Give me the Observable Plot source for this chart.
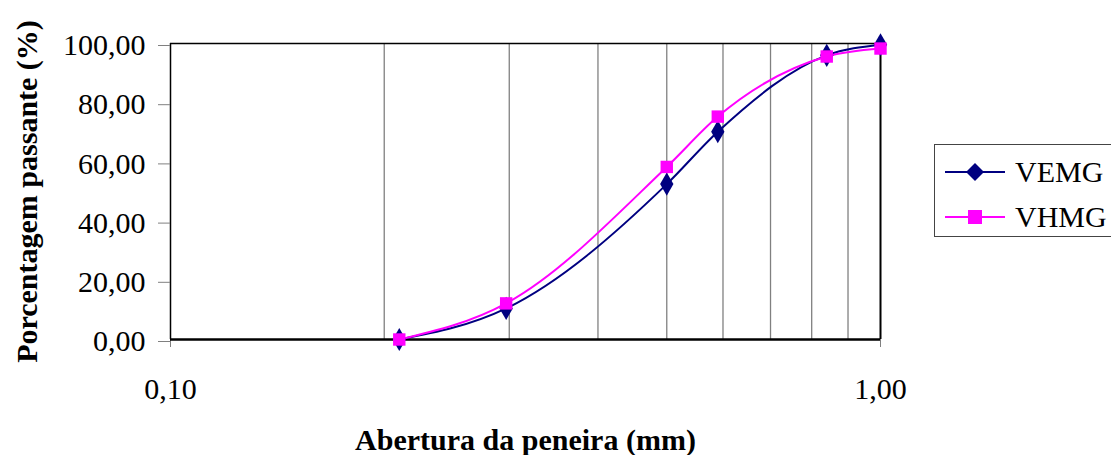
<!DOCTYPE html>
<html>
<head>
<meta charset="utf-8">
<script src="https://cdn.jsdelivr.net/npm/d3@7"></script>
<script src="https://cdn.jsdelivr.net/npm/@observablehq/plot@0.6"></script>
<style>
  html, body { margin: 0; padding: 0; background: #fff; }
  #wrap { position: relative; width: 1111px; height: 455px; overflow: hidden; font-family: "Liberation Serif", "Times New Roman", serif; }
  #chart svg { display: block; }
  #legend { position: absolute; left: 934px; top: 144px; width: 200px; height: 93px; border: 1px solid #444; box-sizing: border-box; background: #fff; }
  #legend .row { position: absolute; left: 10px; height: 40px; display: flex; align-items: center; }
  #legend .row span { font-size: 30px; margin-left: 10px; color: #000; }
</style>
</head>
<body>
<div id="wrap"><div id="chart"></div><div id="legend"></div></div>
<script>
// Sieve openings (mm) and cumulative percentage passing
const aberturas = [0.21, 0.297, 0.5, 0.59, 0.84, 1.0];
const vemg = [0.0, 10.5, 52.5, 70.2, 96.0, 99.6];
const vhmg = [0.0, 12.2, 58.3, 75.3, 95.6, 98.3];
const series = ["VEMG", "VHMG"];
const cores = ["#000080", "#FF00FF"];
const simbolos = ["diamond", "square"];
const yTicks = [0, 20, 40, 60, 80, 100];
const xTicks = [0.1, 1.0];
const xGrid = [0.2, 0.3, 0.4, 0.5, 0.6, 0.7, 0.8, 0.9];

const fmt = v => d3.format(".2f")(v).replace(".", ",");

const rows = [];
aberturas.forEach((a, i) => {
  rows.push({abertura: a, passante: vemg[i], serie: series[0]});
  rows.push({abertura: a, passante: vhmg[i], serie: series[1]});
});

const chart = Plot.plot({
  width: 1111,
  height: 455,
  marginLeft: 170,
  marginRight: 231,
  marginTop: 43,
  marginBottom: 116,
  style: {fontFamily: "'Liberation Serif', 'Times New Roman', serif", background: "#fff", color: "#000"},
  x: {type: "log", domain: [0.1, 1.0]},
  y: {domain: [0, 100]},
  color: {domain: series, range: cores},
  symbol: {domain: series, range: simbolos},
  marks: [
    Plot.ruleX(xGrid, {stroke: "#808080", strokeWidth: 1.3}),
    Plot.ruleY([100], {stroke: "#000", strokeWidth: 1.5}),
    Plot.ruleX([1.0], {stroke: "#000", strokeWidth: 2}),
    Plot.ruleX([0.1], {stroke: "#000", strokeWidth: 1.5}),
    Plot.axisY({ticks: yTicks, tickFormat: fmt, tickSize: 12, tickPadding: 13, fontSize: 30, stroke: "#808080", dy: 2, label: null}),
    Plot.axisX({ticks: xTicks, tickFormat: fmt, tickSize: 8, tickPadding: 30, fontSize: 30, stroke: "#808080", label: null}),
    Plot.ruleY([0], {stroke: "#000", strokeWidth: 2.5}),
    Plot.line(rows, {x: "abertura", y: "passante", z: "serie", stroke: "serie", strokeWidth: 2, curve: "monotone-x"}),
    Plot.dot(rows, {x: "abertura", y: "passante", fill: "serie", symbol: "serie", r: 7, stroke: "none"}),
    Plot.text(["Abertura da peneira (mm)"], {frameAnchor: "bottom", lineAnchor: "bottom", dy: 110, fontSize: 30, fontWeight: "bold", letterSpacing: "1.6px"}),
    Plot.text(["Porcentagem passante (%)"], {frameAnchor: "left", textAnchor: "middle", lineAnchor: "middle", dx: -143, rotate: -90, fontSize: 30, fontWeight: "bold"})
  ]
});
document.getElementById("chart").appendChild(chart);

// Legend with line-and-marker samples
const legend = document.getElementById("legend");
series.forEach((s, i) => {
  const row = document.createElement("div");
  row.className = "row";
  row.style.top = (i === 0 ? 7 : 52) + "px";
  const marker = i === 0
    ? `<path d="M30,-9 L39,0 L30,9 L21,0 Z" fill="${cores[i]}"/>`
    : `<rect x="23" y="-7" width="14" height="14" fill="${cores[i]}"/>`;
  row.innerHTML = `<svg width="60" height="20" viewBox="0 -10 60 20"><line x1="0" y1="0" x2="60" y2="0" stroke="${cores[i]}" stroke-width="2"/>${marker}</svg><span>${s}</span>`;
  legend.appendChild(row);
});
</script>
</body>
</html>
